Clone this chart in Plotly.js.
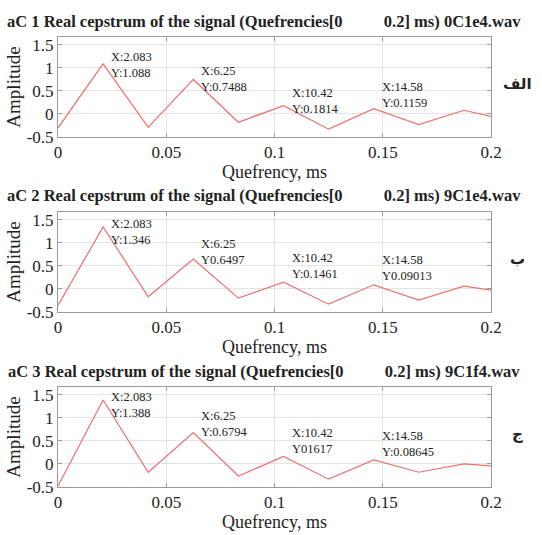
<!DOCTYPE html>
<html>
<head>
<meta charset="utf-8">
<script src="https://cdn.plot.ly/plotly-3.0.1.min.js"></script>
<style>
  html, body { margin: 0; padding: 0; background: #ffffff; }
  #chart { width: 542px; height: 535px; }
</style>
</head>
<body>
<div id="chart"></div>
<script>
// Quefrency samples (ms), spacing 1/48 ms
const quefrency = [0, 0.02083, 0.04167, 0.0625, 0.08333, 0.10417, 0.125, 0.14583, 0.16667, 0.1875, 0.20833];

// Real cepstrum amplitude for each file
const amp1 = [-0.30, 1.088, -0.29, 0.7488, -0.18, 0.1814, -0.33, 0.1159, -0.23, 0.08, -0.14];
const amp2 = [-0.36, 1.346, -0.17, 0.6497, -0.20, 0.1461, -0.33, 0.09013, -0.24, 0.06, -0.08];
const amp3 = [-0.48, 1.388, -0.18, 0.6794, -0.26, 0.1617, -0.33, 0.08645, -0.18, 0.00, -0.07];

// Panel titles and side labels
const panelTitles = [
  "aC 1 Real cepstrum of the signal (Quefrencies[0\u00a0\u00a0\u00a0\u00a0\u00a0\u00a0\u00a0\u00a0\u00a0\u00a00.2] ms) 0C1e4.wav",
  "aC 2 Real cepstrum of the signal (Quefrencies[0\u00a0\u00a0\u00a0\u00a0\u00a0\u00a0\u00a0\u00a0\u00a0\u00a00.2] ms) 9C1e4.wav",
  "aC 3 Real cepstrum of the signal (Quefrencies[0\u00a0\u00a0\u00a0\u00a0\u00a0\u00a0\u00a0\u00a0\u00a0\u00a00.2] ms) 9C1f4.wav"
];
const sideLabels = ["الف", "ب", "ج"];

// Data-tip markers: sample index of each marked peak and its tip text
const tipIndex = [1, 3, 5, 7];
const tipText1 = ["X:2.083<br>Y:1.088", "X:6.25<br>Y:0.7488", "X:10.42<br>Y:0.1814", "X:14.58<br>Y:0.1159"];
const tipText2 = ["X:2.083<br>Y:1.346", "X:6.25<br>Y0.6497", "X:10.42<br>Y:0.1461", "X:14.58<br>Y0.09013"];
const tipText3 = ["X:2.083<br>Y:1.388", "X:6.25<br>Y:0.6794", "X:10.42<br>Y01617", "X:14.58<br>Y:0.08645"];

// Axis ticks
const xTickVals = [0, 0.05, 0.1, 0.15, 0.2];
const xTickText = ["0", "0.05", "0.1", "0.15", "0.2"];
const yTickVals = [-0.5, 0, 0.5, 1, 1.5];
const yTickText = ["-0.5", "0", "0.5", "1", "1.5"];

// ---- layout constants ----
const W = 542, H = 535;
const SERIF = "Liberation Serif, Times New Roman, serif";
const TEXT = "#222222";
const LINE = "#ee6f6f";
const plotTop = [37, 212, 387];     // px from top of each axes box
const plotH = 100;
const plotLeft = 58, plotRight = 491;
const tipShiftY = [[-1, 0, 5, 14], [-5, 7, 16, 17], [-5, 9, 16, 16]];

const ampSets = [amp1, amp2, amp3];
const tipSets = [tipText1, tipText2, tipText3];

const traces = [];
const annotations = [];
const layout = {
  width: W, height: H,
  margin: {l: 0, r: 0, t: 0, b: 0},
  paper_bgcolor: "#ffffff",
  plot_bgcolor: "#ffffff",
  showlegend: false,
  font: {family: SERIF, color: TEXT, size: 17},
  annotations: annotations
};

for (let i = 0; i < 3; i++) {
  const sfx = i === 0 ? "" : String(i + 1);
  const yDom = [1 - (plotTop[i] + plotH) / H, 1 - plotTop[i] / H];

  traces.push({
    x: quefrency, y: ampSets[i],
    xaxis: "x" + sfx, yaxis: "y" + sfx,
    type: "scatter", mode: "lines",
    line: {color: LINE, width: 1.2},
    hoverinfo: "skip"
  });

  const axisCommon = {
    showline: true, linecolor: "#9a9a9a", linewidth: 1, mirror: "ticks",
    ticks: "inside", ticklen: 4, tickcolor: "#9a9a9a",
    showgrid: true, gridcolor: "#e4e4e4", gridwidth: 1,
    zeroline: false,
    tickfont: {family: SERIF, size: 17, color: TEXT},
    fixedrange: true
  };

  layout["xaxis" + sfx] = Object.assign({}, axisCommon, {
    domain: [plotLeft / W, plotRight / W],
    anchor: "y" + sfx,
    range: [0, 0.2],
    tickmode: "array", tickvals: xTickVals, ticktext: xTickText,
    title: {text: "Quefrency, ms", font: {family: SERIF, size: 18, color: TEXT}, standoff: 0}
  });
  layout["yaxis" + sfx] = Object.assign({}, axisCommon, {
    domain: yDom,
    anchor: "x" + sfx,
    range: [-0.5, 1.67],
    tickmode: "array", tickvals: yTickVals, ticktext: yTickText,
    title: {text: "Amplitude", font: {family: SERIF, size: 19, color: TEXT}, standoff: 1}
  });

  // panel title
  annotations.push({
    xref: "paper", yref: "paper",
    x: 264 / W, y: 1 - (plotTop[i] - 16) / H,
    xanchor: "center", yanchor: "middle",
    text: "<b>" + panelTitles[i] + "</b>",
    showarrow: false,
    font: {family: SERIF, size: 16.5, color: TEXT}
  });

  // side label
  annotations.push({
    xref: "paper", yref: "paper",
    x: 517 / W, y: 1 - (plotTop[i] + 47) / H,
    xanchor: "center", yanchor: "middle",
    text: "<b>" + sideLabels[i] + "</b>",
    showarrow: false,
    font: {family: "DejaVu Sans, Noto Sans, sans-serif", size: 15, color: TEXT}
  });

  // data tips at the marked peaks
  tipIndex.forEach((k, j) => {
    annotations.push({
      xref: "x" + sfx, yref: "y" + sfx,
      x: quefrency[k], y: ampSets[i][k],
      xanchor: "left", yanchor: "middle", align: "left",
      xshift: 6, yshift: tipShiftY[i][j],
      text: tipSets[i][j],
      showarrow: false,
      font: {family: SERIF, size: 12.5, color: TEXT}
    });
  });
}

Plotly.newPlot("chart", traces, layout, {displayModeBar: false, staticPlot: true});
</script>
</body>
</html>
